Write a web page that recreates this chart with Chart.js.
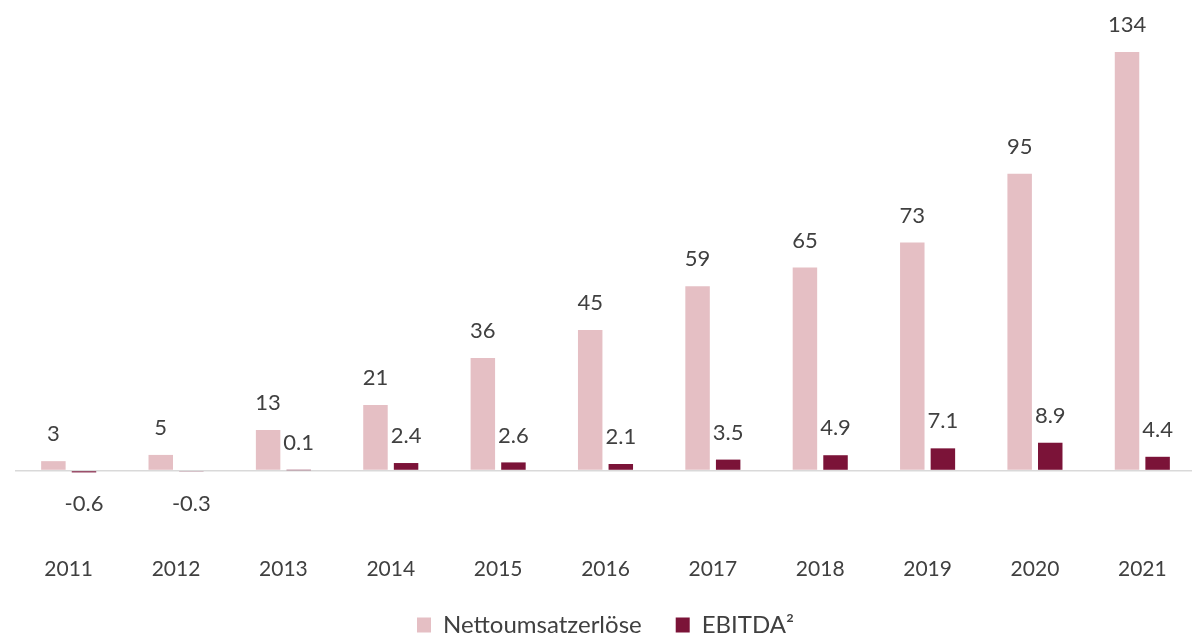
<!DOCTYPE html>
<html lang="de">
<head>
<meta charset="utf-8">
<title>Nettoumsatzerlöse und EBITDA</title>
<script src="https://cdn.jsdelivr.net/npm/chart.js@4.4.1/dist/chart.umd.min.js"></script>
<style>
  html, body { margin: 0; padding: 0; background: #fff; overflow: hidden; }
  /* etwas breiter als das Fenster, damit die letzte Kategorie wie im Original knapp am Rand sitzt */
  #wrap { width: 1196px; height: 637px; position: relative; }
</style>
</head>
<body>
<div id="wrap"><canvas id="chart"></canvas></div>
<script>
// Daten
const years = ['2011', '2012', '2013', '2014', '2015', '2016', '2017', '2018', '2019', '2020', '2021'];
const nettoumsatz = [3, 5, 13, 21, 36, 45, 59, 65, 73, 95, 134];
const ebitda = [-0.6, -0.3, 0.1, 2.4, 2.6, 2.1, 3.5, 4.9, 7.1, 8.9, 4.4];

const FONT = 'Lato, "Open Sans", sans-serif';
const TEXT = '#404040';

// Wertbeschriftung über / unter den Balken (kein datalabels-Plugin verfügbar)
const valueLabels = {
    id: 'valueLabels',
    afterDatasetsDraw(chart) {
        const ctx = chart.ctx;
        ctx.save();
        ctx.font = '22px ' + FONT;
        ctx.fillStyle = TEXT;
        ctx.textAlign = 'center';
        ctx.textBaseline = 'middle';
        chart.data.datasets.forEach((ds, i) => {
            chart.getDatasetMeta(i).data.forEach((bar, j) => {
                const v = ds.data[j];
                const y = v >= 0 ? bar.y - 27 : bar.y + 32;
                ctx.fillText(String(v), bar.x, y);
            });
        });
        ctx.restore();
    }
};

new Chart(document.getElementById('chart'), {
    type: 'bar',
    data: {
        labels: years,
        datasets: [
            {
                label: 'Nettoumsatzerlöse',
                data: nettoumsatz,
                backgroundColor: '#e5bfc4'
            },
            {
                label: 'EBITDA²',
                data: ebitda,
                backgroundColor: '#7b1338'
            }
        ]
    },
    options: {
        responsive: true,
        maintainAspectRatio: false,
        animation: false,
        datasets: {
            bar: { categoryPercentage: 0.57, barPercentage: 0.8 }
        },
        layout: { padding: { left: 15, right: 0, top: 2, bottom: -10 } },
        plugins: {
            tooltip: { enabled: false },
            legend: {
                position: 'bottom',
                labels: {
                    font: { family: FONT, size: 24 },
                    color: TEXT,
                    boxWidth: 14,
                    boxHeight: 15,
                    padding: 34
                }
            }
        },
        scales: {
            x: {
                grid: { display: false },
                border: { display: false },
                ticks: {
                    font: { family: FONT, size: 21 },
                    color: TEXT,
                    padding: 16
                },
                afterFit: scale => { scale.height = 46; }
            },
            y: {
                min: -20,
                max: 150,
                ticks: { display: false, stepSize: 10 },
                border: { display: false },
                grid: {
                    drawTicks: false,
                    color: c => c.tick.value === 0 ? '#d9d9d9' : 'rgba(0,0,0,0)',
                    lineWidth: 1.5
                }
            }
        }
    },
    plugins: [valueLabels]
});
</script>
</body>
</html>
